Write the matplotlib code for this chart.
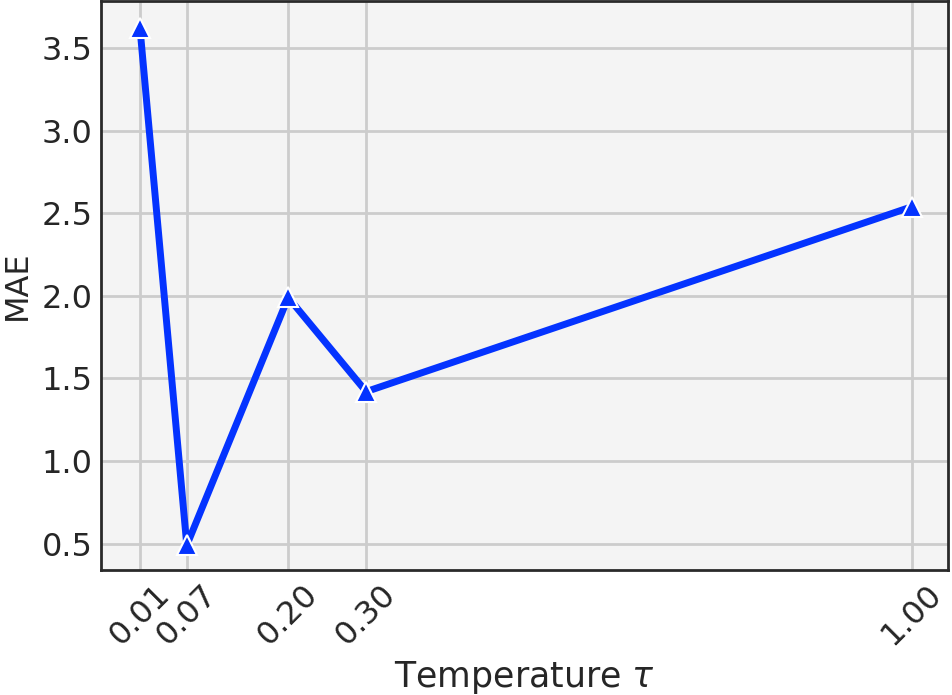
import matplotlib
matplotlib.use("Agg")
import matplotlib.pyplot as plt

temperatures = [0.01, 0.07, 0.20, 0.30, 1.00]
mae = [3.62, 0.49, 1.99, 1.42, 2.54]
tick_labels = ["0.01", "0.07", "0.20", "0.30", "1.00"]
y_ticks = [0.5, 1.0, 1.5, 2.0, 2.5, 3.0, 3.5]
y_tick_labels = ["0.5", "1.0", "1.5", "2.0", "2.5", "3.0", "3.5"]

fig = plt.figure(figsize=(9.52, 6.95), dpi=100)
ax = fig.add_axes([101/952, 125/695, 847/952, 569/695])
ax.set_facecolor("#f4f4f4")
ax.plot(temperatures, mae, color="#0433ff", linewidth=5, marker="^",
        markersize=15, markeredgecolor="white", markeredgewidth=1.5, zorder=3)
ax.set_xticks(temperatures)
ax.set_xticklabels(tick_labels, rotation=45, fontsize=23, color="#262626")
ax.set_yticks(y_ticks)
ax.set_yticklabels(y_tick_labels, fontsize=23, color="#262626")
ax.tick_params(length=0, pad=6)
ax.set_xlim(-0.040, 1.046)
ax.set_ylim(0.34, 3.785)
ax.grid(True, color="#cccccc", linewidth=2)
ax.set_axisbelow(True)
for s in ax.spines.values():
    s.set_color("#2a2a2a")
    s.set_linewidth(2)
ax.set_xlabel(r"Temperature $\tau$", fontsize=25, color="#262626", labelpad=6)
ax.set_ylabel("MAE", fontsize=23, color="#262626", labelpad=6)
fig.savefig("out.png", dpi=100)
